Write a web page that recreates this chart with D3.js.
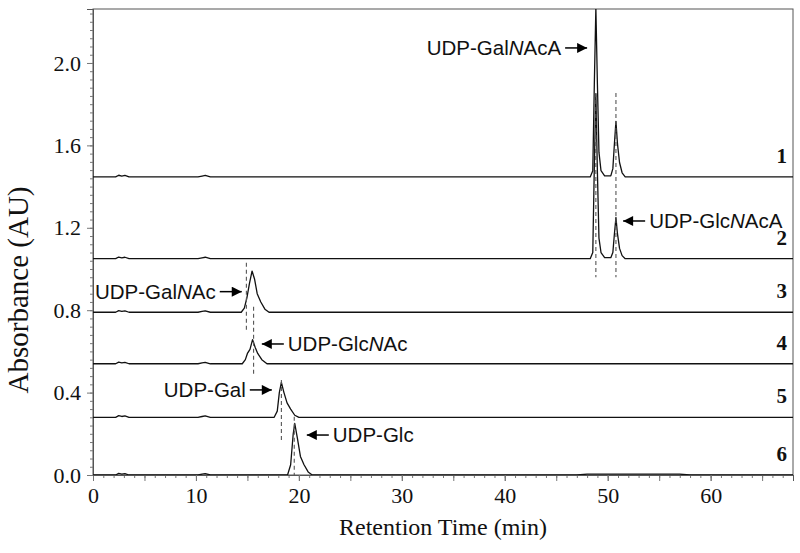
<!DOCTYPE html>
<html>
<head>
<meta charset="utf-8">
<script src="https://cdn.jsdelivr.net/npm/d3@7"></script>
<style>
  body { margin: 0; background: #fff; }
</style>
</head>
<body>
<svg width="800" height="553"></svg>
<script>
var svg = d3.select('svg');

// data: each trace is a list of [time, height above its baseline]
var traceNames = ['1', '2', '3', '4', '5', '6'];
var traceOffsets = [1.447, 1.05, 0.79, 0.54, 0.28, 0.0];

var bumps = [[0, 0], [2.2, 0], [2.5, 0.008], [2.8, 0.004], [3.1, 0.007], [3.5, 0],
             [10.2, 0], [10.6, 0.004], [10.9, 0.007], [11.4, 0]];

var trace1 = bumps.concat([[48.3, 0], [48.55, 0.03], [48.7, 0.45], [48.85, 0.82], [49.0, 0.45],
  [49.15, 0.12], [49.35, 0.03], [49.7, 0.005], [50.3, 0.005], [50.5, 0.04], [50.65, 0.16],
  [50.8, 0.27], [50.95, 0.16], [51.15, 0.07], [51.4, 0.02], [51.7, 0], [68, 0]]);

var trace2 = bumps.concat([[48.3, 0], [48.55, 0.03], [48.7, 0.45], [48.85, 0.80], [49.0, 0.42],
  [49.15, 0.1], [49.35, 0.03], [49.7, 0.005], [50.3, 0.005], [50.5, 0.03], [50.65, 0.12],
  [50.8, 0.2], [50.95, 0.12], [51.15, 0.05], [51.4, 0.015], [51.7, 0], [68, 0]]);

var trace3 = bumps.concat([[14.4, 0], [14.7, 0.02], [14.95, 0.07], [15.2, 0.14], [15.45, 0.2],
  [15.7, 0.16], [15.95, 0.09], [16.3, 0.05], [16.7, 0.015], [17.1, 0], [68, 0]]);

var trace4 = bumps.concat([[14.5, 0], [14.8, 0.02], [15.0, 0.05], [15.25, 0.07], [15.5, 0.117],
  [15.75, 0.08], [16.0, 0.05], [16.4, 0.02], [16.9, 0], [68, 0]]);

var trace5 = bumps.concat([[17.6, 0], [17.9, 0.03], [18.1, 0.12], [18.3, 0.17], [18.55, 0.12],
  [18.85, 0.07], [19.2, 0.04], [19.6, 0.01], [20.0, 0], [68, 0]]);

var trace6 = bumps.concat([[18.9, 0], [19.2, 0.05], [19.45, 0.2], [19.6, 0.25], [19.85, 0.18],
  [20.15, 0.09], [20.5, 0.05], [20.9, 0.015], [21.3, 0], [47, 0], [48, 0.004], [57, 0.004],
  [58, 0], [68, 0]]);

var traces = [trace1, trace2, trace3, trace4, trace5, trace6];

// dashed guide lines: time, from value, to value
var guideTimes = [48.85, 50.8, 14.9, 15.6, 18.3, 19.55];
var guideTop = [1.854, 1.854, 1.03, 0.817, 0.461, 0.283];
var guideBottom = [0.96, 0.96, 0.69, 0.477, 0.155, 0.0];

// peak labels: arrow tip (time, value), arrow direction
var labelParts = [
  ['UDP-Gal', 'N', 'AcA'],
  ['UDP-Glc', 'N', 'AcA'],
  ['UDP-Gal', 'N', 'Ac'],
  ['UDP-Glc', 'N', 'Ac'],
  ['UDP-Gal'],
  ['UDP-Glc']
];
var labelTipTime = [48.0, 51.5, 14.45, 16.4, 17.37, 20.77];
var labelTipValue = [2.073, 1.233, 0.89, 0.636, 0.413, 0.194];
var labelDir = ['right', 'left', 'right', 'left', 'right', 'left'];

var xTicks = [0, 10, 20, 30, 40, 50, 60];
var yTicks = [0.0, 0.4, 0.8, 1.2, 1.6, 2.0];

var mLeft = 93, mRight = 793, mTop = 9, mBottom = 475;

var x = d3.scaleLinear().domain([0, 68]).range([mLeft, mRight]);
var y = d3.scaleLinear().domain([0, 2.262]).range([mBottom, mTop]);

var defs = svg.append('defs');
defs.append('marker')
    .attr('id', 'head')
    .attr('viewBox', '0 0 10 10')
    .attr('refX', 10)
    .attr('refY', 5)
    .attr('markerWidth', 12)
    .attr('markerHeight', 10)
    .attr('markerUnits', 'userSpaceOnUse')
    .attr('orient', 'auto')
    .append('path')
    .attr('d', 'M0,0 L10,5 L0,10 Z')
    .attr('fill', '#000');

defs.append('clipPath').attr('id', 'plot')
    .append('rect')
    .attr('x', mLeft).attr('y', mTop)
    .attr('width', mRight - mLeft).attr('height', mBottom - mTop);

// frame
svg.append('rect')
    .attr('x', mLeft).attr('y', mTop)
    .attr('width', mRight - mLeft).attr('height', mBottom - mTop)
    .attr('fill', 'none')
    .attr('stroke', '#555')
    .attr('stroke-width', 1);

// axes
svg.append('g')
    .attr('transform', 'translate(0,' + mBottom + ')')
    .call(d3.axisBottom(x).tickValues(d3.range(0, 69, 1)).tickSize(3).tickFormat(''));
svg.append('g')
    .attr('transform', 'translate(0,' + mBottom + ')')
    .call(d3.axisBottom(x).tickValues(d3.range(0, 69, 5)).tickSize(6).tickFormat(''));
svg.append('g')
    .attr('transform', 'translate(0,' + mBottom + ')')
    .call(d3.axisBottom(x).tickValues(xTicks).tickSize(6).tickPadding(6).tickFormat(d3.format('d')));

svg.append('g')
    .attr('transform', 'translate(' + mLeft + ',0)')
    .call(d3.axisLeft(y).tickValues(d3.range(0, 2.26, 0.04)).tickSize(3).tickFormat(''));
svg.append('g')
    .attr('transform', 'translate(' + mLeft + ',0)')
    .call(d3.axisLeft(y).tickValues(yTicks).tickSize(6).tickPadding(6).tickFormat(d3.format('.1f')));

svg.selectAll('.domain').attr('stroke', '#555');
svg.selectAll('.tick line').attr('stroke', '#777');
svg.selectAll('.tick text')
    .attr('font-family', '"Liberation Serif", "Times New Roman", serif')
    .attr('font-size', 22)
    .attr('fill', '#111');

// axis titles
svg.append('text')
    .attr('x', (mLeft + mRight) / 2)
    .attr('y', 535)
    .attr('text-anchor', 'middle')
    .attr('font-family', '"Liberation Serif", "Times New Roman", serif')
    .attr('font-size', 24)
    .attr('fill', '#111')
    .text('Retention Time (min)');

svg.append('text')
    .attr('transform', 'translate(28,290) rotate(-90)')
    .attr('text-anchor', 'middle')
    .attr('font-family', '"Liberation Serif", "Times New Roman", serif')
    .attr('font-size', 29)
    .attr('fill', '#111')
    .text('Absorbance (AU)');

// traces
var line = d3.line()
    .x(function(d){ return x(d[0]); })
    .y(function(d){ return y(d[1]); });

var plot = svg.append('g').attr('clip-path', 'url(#plot)');

plot.selectAll('path.trace')
    .data(traces)
    .enter()
    .append('path')
    .attr('class', 'trace')
    .attr('d', function(d, i){
        return line(d.map(function(p){ return [p[0], p[1] + traceOffsets[i]]; }));
    })
    .attr('fill', 'none')
    .attr('stroke', '#111')
    .attr('stroke-width', 1.3)
    .attr('stroke-linejoin', 'round');

// dashed guides
svg.selectAll('line.guide')
    .data(guideTimes)
    .enter()
    .append('line')
    .attr('class', 'guide')
    .attr('x1', function(d){ return x(d); })
    .attr('x2', function(d){ return x(d); })
    .attr('y1', function(d, i){ return y(guideTop[i]); })
    .attr('y2', function(d, i){ return y(guideBottom[i]); })
    .attr('stroke', '#555')
    .attr('stroke-width', 1.1)
    .attr('stroke-dasharray', '4,3');

// trace numbers
svg.selectAll('text.num')
    .data(traceNames)
    .enter()
    .append('text')
    .attr('class', 'num')
    .attr('x', mRight - 6)
    .attr('y', function(d, i){ return y(traceOffsets[i]) - 14; })
    .attr('text-anchor', 'end')
    .attr('font-family', '"Liberation Serif", "Times New Roman", serif')
    .attr('font-weight', 'bold')
    .attr('font-size', 21)
    .attr('fill', '#111')
    .text(function(d){ return d; });

// peak labels with arrows
var arrowLen = 22, gap = 4;
labelParts.forEach(function(parts, i){
    var tx = x(labelTipTime[i]), ty = y(labelTipValue[i]);
    var dir = labelDir[i];
    var tail = dir === 'right' ? tx - arrowLen : tx + arrowLen;
    svg.append('line')
        .attr('x1', tail).attr('y1', ty)
        .attr('x2', tx).attr('y2', ty)
        .attr('stroke', '#000')
        .attr('stroke-width', 1.5)
        .attr('marker-end', 'url(#head)');
    var t = svg.append('text')
        .attr('x', dir === 'right' ? tail - gap : tail + gap)
        .attr('y', ty)
        .attr('dy', '0.35em')
        .attr('text-anchor', dir === 'right' ? 'end' : 'start')
        .attr('font-family', '"Liberation Sans", Arial, sans-serif')
        .attr('font-size', 20.5)
        .attr('fill', '#111');
    parts.forEach(function(p, k){
        t.append('tspan')
            .attr('font-style', k === 1 ? 'italic' : 'normal')
            .text(p);
    });
});
</script>
</body>
</html>
